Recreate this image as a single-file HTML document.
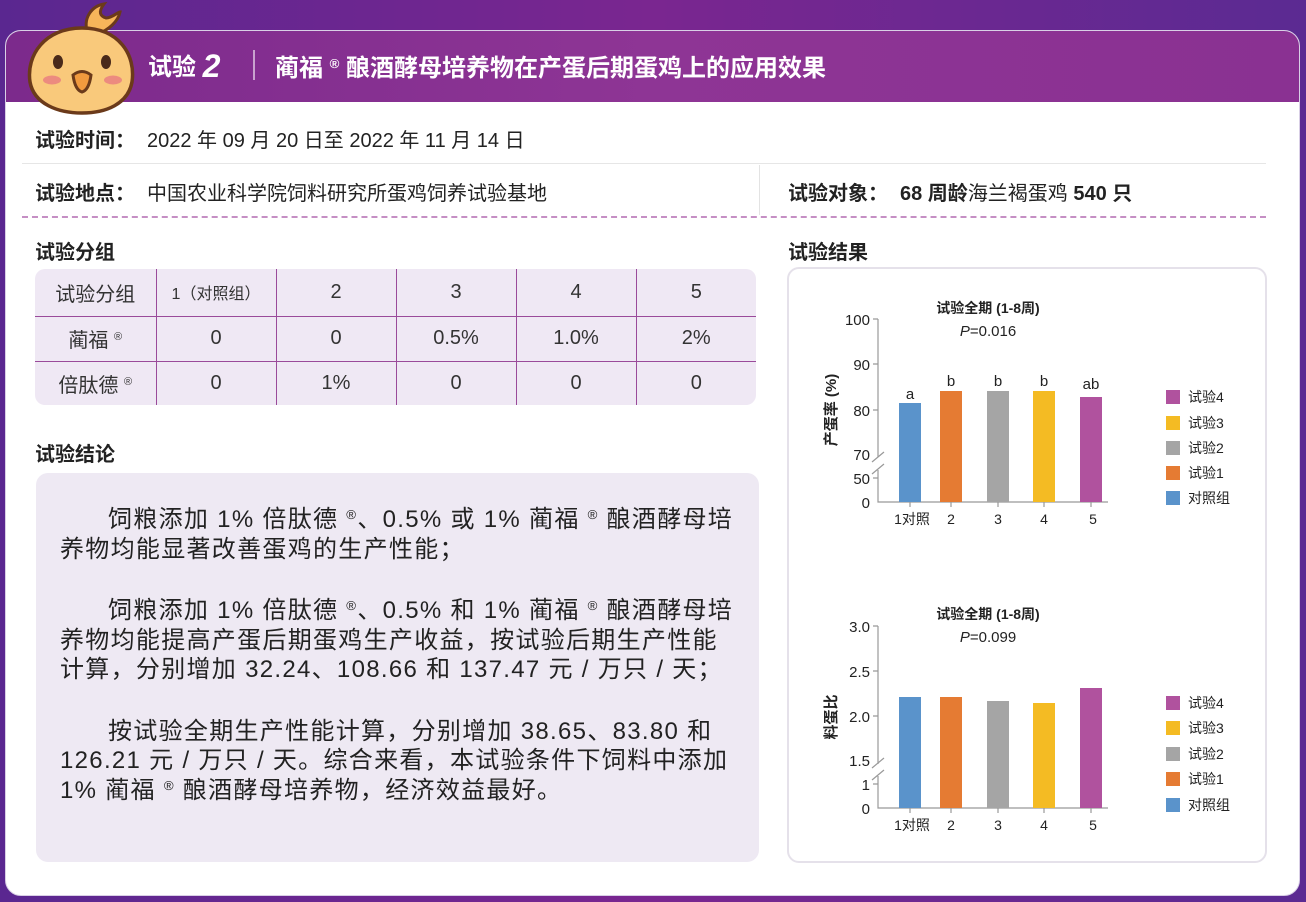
<!DOCTYPE html>
<html><head><meta charset="utf-8">
<style>
*{margin:0;padding:0;box-sizing:border-box}
body{width:1306px;height:902px;overflow:hidden;position:relative;font-family:"Liberation Sans","Noto Sans CJK SC",sans-serif;background:linear-gradient(90deg,#5a2790,#7a2690 50%,#5b2a92);color:#222}
.card{position:absolute;left:5px;top:30px;width:1295px;height:866px;background:#fff;border-radius:16px;overflow:hidden;border:1px solid #d9cfe6}
.hdr{position:absolute;left:0;top:0;width:100%;height:71px;background:linear-gradient(90deg,#7c2a8c,#8e3595 50%,#8a3192)}
.ab{position:absolute;white-space:nowrap}
.t{font-size:20px}
.b{font-weight:bold}
.lb{font-weight:bold;display:inline-block;margin-right:12px}
table{border-collapse:collapse}
sup{font-size:0.55em;vertical-align:baseline;position:relative;top:-0.6em;line-height:0}
</style></head><body>
<div class="card">
 <div class="hdr"></div>
</div>
<svg class="ab" style="left:22px;top:0px" width="120" height="118" viewBox="0 0 120 118">
 <path d="M66 34 C60 18 70 6 82 4 C76 12 78 16 84 18 C90 18 96 12 98 12 C96 22 86 30 76 34 Z" fill="#f6b55a" stroke="#6b3a1a" stroke-width="3"/>
 <path d="M60 28 C97 28 114 55 110 82 C106 104 84 113 60 113 C36 113 12 104 8 82 C4 55 23 28 60 28Z" fill="#f9c97b" stroke="#6b3a1a" stroke-width="3.5"/>
 <ellipse cx="36" cy="62" rx="5" ry="7" fill="#4a2a1a"/><ellipse cx="84" cy="62" rx="5" ry="7" fill="#4a2a1a"/>
 <ellipse cx="30" cy="80" rx="9" ry="4.5" fill="#ec8b7f"/><ellipse cx="91" cy="80" rx="9" ry="4.5" fill="#ec8b7f"/>
 <path d="M51 75 Q60 68 69 75 Q67 90 60 92 Q53 90 51 75Z" fill="#f19a3e" stroke="#6b3a1a" stroke-width="3"/>
</svg>
<div class="ab b" style="left:148px;top:46px;font-size:24px;color:#fff">试验 <span style="font-size:32px;font-style:italic;position:relative;top:2px">2</span></div>
<div class="ab" style="left:253px;top:50px;width:2px;height:30px;background:#c9a2cf"></div>
<div class="ab b" style="left:275px;top:48px;font-size:24px;color:#fff">蔺福 <sup>®</sup> 酿酒酵母培养物在产蛋后期蛋鸡上的应用效果</div>

<div class="ab t" style="left:35px;top:124px"><span class="lb">试验时间：</span>2022 年 09 月 20 日至 2022 年 11 月 14 日</div>
<div class="ab" style="left:22px;top:163px;width:1244px;height:1px;background:#e6e6e6"></div>
<div class="ab t" style="left:35px;top:177px"><span class="lb">试验地点：</span>中国农业科学院饲料研究所蛋鸡饲养试验基地</div>
<div class="ab" style="left:759px;top:165px;width:1px;height:50px;background:#e3e3e3"></div>
<div class="ab t b" style="left:788px;top:177px"><span class="lb">试验对象：</span>68 周龄<span style="font-weight:normal">海兰褐蛋鸡</span> 540 只</div>
<div class="ab" style="left:22px;top:216px;width:1244px;height:0;border-top:2px dashed #c58fc4"></div>

<div class="ab t b" style="left:35px;top:236px">试验分组</div>
<div class="ab t b" style="left:788px;top:236px">试验结果</div>

<div class="ab" style="left:35px;top:269px;width:721px;height:136px;background:#efe8f4;border-radius:10px;overflow:hidden">
<table style="width:721px;font-size:20px;text-align:center;color:#333">
<tr style="height:47px;border-bottom:1px solid #9a4a9a"><td style="width:121px">试验分组</td><td style="width:120px;border-left:1px solid #9a4a9a;font-size:16px">1（对照组）</td><td style="width:120px;border-left:1px solid #9a4a9a">2</td><td style="width:120px;border-left:1px solid #9a4a9a">3</td><td style="width:120px;border-left:1px solid #9a4a9a">4</td><td style="border-left:1px solid #9a4a9a">5</td></tr>
<tr style="height:45px;border-bottom:1px solid #9a4a9a"><td>蔺福 <sup>®</sup></td><td style="border-left:1px solid #9a4a9a">0</td><td style="border-left:1px solid #9a4a9a">0</td><td style="border-left:1px solid #9a4a9a">0.5%</td><td style="border-left:1px solid #9a4a9a">1.0%</td><td style="border-left:1px solid #9a4a9a">2%</td></tr>
<tr style="height:44px"><td>倍肽德 <sup>®</sup></td><td style="border-left:1px solid #9a4a9a">0</td><td style="border-left:1px solid #9a4a9a">1%</td><td style="border-left:1px solid #9a4a9a">0</td><td style="border-left:1px solid #9a4a9a">0</td><td style="border-left:1px solid #9a4a9a">0</td></tr>
</table></div>

<div class="ab t b" style="left:35px;top:438px">试验结论</div>
<div class="ab" style="left:36px;top:473px;width:723px;height:389px;background:#eee9f3;border-radius:12px"></div>
<div class="ab" style="left:60px;top:505px;width:680px;white-space:normal;font-size:24px;line-height:29.5px;letter-spacing:1.3px;color:#222">
<p style="text-indent:2em">饲粮添加 1% 倍肽德 <sup>®</sup>、0.5% 或 1% 蔺福 <sup>®</sup> 酿酒酵母培养物均能显著改善蛋鸡的生产性能；</p>
<p style="text-indent:2em;margin-top:32px">饲粮添加 1% 倍肽德 <sup>®</sup>、0.5% 和 1% 蔺福 <sup>®</sup> 酿酒酵母培养物均能提高产蛋后期蛋鸡生产收益，按试验后期生产性能计算，分别增加 32.24、108.66 和 137.47 元 / 万只 / 天；</p>
<p style="text-indent:2em;margin-top:32px">按试验全期生产性能计算，分别增加 38.65、83.80 和 126.21 元 / 万只 / 天。综合来看，本试验条件下饲料中添加 1% 蔺福 <sup>®</sup> 酿酒酵母培养物，经济效益最好。</p>
</div>

<div class="ab" style="left:787px;top:267px;width:480px;height:596px;border:2px solid #e5e1ea;border-radius:12px;background:#fff"></div>
<svg class="ab" style="left:0;top:0" width="1306" height="902" font-family="Liberation Sans,Noto Sans CJK SC,sans-serif" font-size="14" fill="#222">
 <g stroke="#999" stroke-width="1.2" fill="none">
  <path d="M878 319V457M878 470V502H1108"/><path d="M873 319H878M873 364H878M873 410H878M873 478H878"/>
  <path d="M872 462L884 452M872 474L884 464"/>
  <path d="M910 502v5M951 502v5M998 502v5M1044 502v5M1091 502v5"/>
  <path d="M878 626V764M878 776V808H1108"/><path d="M873 626H878M873 671H878M873 716H878M873 784H878"/>
  <path d="M872 768L884 758M872 780L884 770"/>
  <path d="M910 808v5M951 808v5M998 808v5M1044 808v5M1091 808v5"/>
 </g>
 <g text-anchor="end" font-size="15"><text x="870" y="325">100</text><text x="870" y="370">90</text><text x="870" y="416">80</text><text x="870" y="460">70</text><text x="870" y="484">50</text><text x="870" y="508">0</text>
 <text x="870" y="632">3.0</text><text x="870" y="677">2.5</text><text x="870" y="722">2.0</text><text x="870" y="766">1.5</text><text x="870" y="790">1</text><text x="870" y="814">0</text></g>
 <g text-anchor="middle" font-size="15"><text x="988" y="313" font-weight="bold" font-size="14">试验全期 (1-8周)</text><text x="988" y="336"><tspan font-style="italic">P</tspan>=0.016</text>
 <text x="988" y="619" font-weight="bold" font-size="14">试验全期 (1-8周)</text><text x="988" y="642"><tspan font-style="italic">P</tspan>=0.099</text>
 <text x="910" y="399">a</text><text x="951" y="386">b</text><text x="998" y="386">b</text><text x="1044" y="386">b</text><text x="1091" y="389">ab</text>
 <g font-size="14"><text x="912" y="524">1对照</text><text x="951" y="524">2</text><text x="998" y="524">3</text><text x="1044" y="524">4</text><text x="1093" y="524">5</text>
 <text x="912" y="830">1对照</text><text x="951" y="830">2</text><text x="998" y="830">3</text><text x="1044" y="830">4</text><text x="1093" y="830">5</text></g></g>
 <text transform="translate(836,410) rotate(-90)" text-anchor="middle" font-weight="bold" font-size="15">产蛋率 (%)</text>
 <text transform="translate(836,717) rotate(-90)" text-anchor="middle" font-weight="bold" font-size="15">料蛋比</text>
 <rect x="899" y="403" width="22" height="99" fill="#5a93cb"/><rect x="940" y="391" width="22" height="111" fill="#e57b33"/><rect x="987" y="391" width="22" height="111" fill="#a5a5a5"/><rect x="1033" y="391" width="22" height="111" fill="#f4bb23"/><rect x="1080" y="397" width="22" height="105" fill="#b0529e"/>
 <rect x="899" y="697" width="22" height="111" fill="#5a93cb"/><rect x="940" y="697" width="22" height="111" fill="#e57b33"/><rect x="987" y="701" width="22" height="107" fill="#a5a5a5"/><rect x="1033" y="703" width="22" height="105" fill="#f4bb23"/><rect x="1080" y="688" width="22" height="120" fill="#b0529e"/>
 <g font-size="14">
  <rect x="1166" y="390" width="14" height="14" fill="#b0529e"/><text x="1188" y="402">试验4</text>
  <rect x="1166" y="416" width="14" height="14" fill="#f4bb23"/><text x="1188" y="428">试验3</text>
  <rect x="1166" y="441" width="14" height="14" fill="#a5a5a5"/><text x="1188" y="453">试验2</text>
  <rect x="1166" y="466" width="14" height="14" fill="#e57b33"/><text x="1188" y="478">试验1</text>
  <rect x="1166" y="491" width="14" height="14" fill="#5a93cb"/><text x="1188" y="503">对照组</text>
  <rect x="1166" y="696" width="14" height="14" fill="#b0529e"/><text x="1188" y="708">试验4</text>
  <rect x="1166" y="721" width="14" height="14" fill="#f4bb23"/><text x="1188" y="733">试验3</text>
  <rect x="1166" y="747" width="14" height="14" fill="#a5a5a5"/><text x="1188" y="759">试验2</text>
  <rect x="1166" y="772" width="14" height="14" fill="#e57b33"/><text x="1188" y="784">试验1</text>
  <rect x="1166" y="798" width="14" height="14" fill="#5a93cb"/><text x="1188" y="810">对照组</text>
 </g>
</svg>
</body></html>
